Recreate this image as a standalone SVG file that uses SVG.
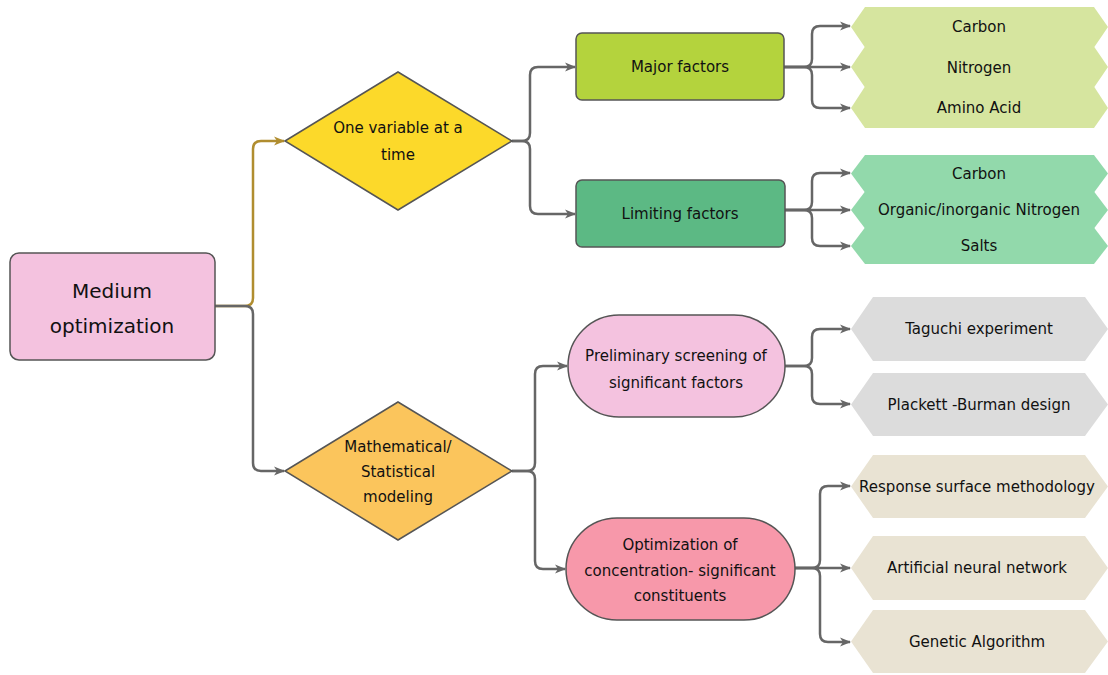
<svg xmlns="http://www.w3.org/2000/svg" width="1108" height="675" viewBox="0 0 1108 675">
<defs>
<marker id="ag" markerUnits="userSpaceOnUse" markerWidth="11" markerHeight="10" refX="10" refY="5" orient="auto"><path d="M0,0.5 L11,5 L0,9.5 L3,5 Z" fill="#666"/></marker>
<marker id="ay" markerUnits="userSpaceOnUse" markerWidth="11" markerHeight="10" refX="10" refY="5" orient="auto"><path d="M0,0.5 L11,5 L0,9.5 L3,5 Z" fill="#b08d2f"/></marker>
<style>
text{font-family:"DejaVu Sans","Noto Sans",sans-serif;font-size:15px;fill:#111;text-anchor:middle}
.big{font-size:20px}
.box{stroke:#555;stroke-width:1.5}
.c{fill:none;stroke:#666;stroke-width:2.5;marker-end:url(#ag)}
.cy{fill:none;stroke:#b08d2f;stroke-width:2.5;marker-end:url(#ay)}
.lg{fill:#d6e59f}
.mt{fill:#92d9ab}
.gr{fill:#dcdcdc}
.bg{fill:#e9e3d3}
</style>
</defs>
<rect width="1108" height="675" fill="#fff"/>

<g id="connectors">
<path class="cy" d="M215,306 H245 Q253,306 253,298 V149 Q253,141 261,141 H284"/>
<path class="c" d="M215,306 H245 Q253,306 253,314 V463 Q253,471 261,471 H284"/>
<path class="c" d="M512,141 H522 Q530,141 530,133 V75 Q530,67 538,67 H575"/>
<path class="c" d="M512,141 H522 Q530,141 530,149 V206 Q530,214 538,214 H575"/>
<path class="c" d="M512,471 H527 Q535,471 535,463 V374 Q535,366 543,366 H567"/>
<path class="c" d="M512,471 H527 Q535,471 535,479 V561 Q535,569 543,569 H565"/>
<path class="c" d="M784,67 H804 Q812,67 812,59 V34 Q812,26 820,26 H850"/>
<path class="c" d="M784,67 H850"/>
<path class="c" d="M784,67 H804 Q812,67 812,75 V100 Q812,108 820,108 H850"/>
<path class="c" d="M785,210 H804 Q812,210 812,202 V181 Q812,173 820,173 H850"/>
<path class="c" d="M785,210 H850"/>
<path class="c" d="M785,210 H804 Q812,210 812,218 V238 Q812,246 820,246 H850"/>
<path class="c" d="M785,366 H804 Q812,366 812,358 V337 Q812,329 820,329 H850"/>
<path class="c" d="M785,366 H804 Q812,366 812,374 V396 Q812,404 820,404 H850"/>
<path class="c" d="M795,568 H812 Q820,568 820,560 V494 Q820,486 828,486 H850"/>
<path class="c" d="M795,568 H850"/>
<path class="c" d="M795,568 H812 Q820,568 820,576 V634 Q820,642 828,642 H850"/>
</g>

<g id="medium">
<rect class="box" x="10" y="253" width="205" height="107" rx="9" fill="#f4c2df"/>
<text class="big" x="112" y="298">Medium</text>
<text class="big" x="112" y="333">optimization</text>
</g>

<g id="ovat">
<polygon class="box" points="285,141 398,72 512,141 398,210" fill="#fcd92a"/>
<text x="398" y="133">One variable at a</text>
<text x="398" y="160">time</text>
</g>

<g id="mathstat">
<polygon class="box" points="285,471 398,402 512,471 398,540" fill="#fbc55c"/>
<text x="398" y="452">Mathematical/</text>
<text x="398" y="477">Statistical</text>
<text x="398" y="502">modeling</text>
</g>

<g id="major">
<rect class="box" x="576" y="33" width="208" height="67" rx="6" fill="#b4d33d"/>
<text x="680" y="72">Major factors</text>
</g>

<g id="limiting">
<rect class="box" x="576" y="180" width="209" height="67" rx="6" fill="#5cb984"/>
<text x="680" y="219">Limiting factors</text>
</g>

<g id="preliminary">
<rect class="box" x="568" y="315" width="217" height="102" rx="51" fill="#f4c2df"/>
<text x="676" y="361">Preliminary screening of</text>
<text x="676" y="388">significant factors</text>
</g>

<g id="optim">
<rect class="box" x="566" y="518" width="229" height="102" rx="51" fill="#f798aa"/>
<text x="680" y="550">Optimization of</text>
<text x="680" y="576">concentration- significant</text>
<text x="680" y="601">constituents</text>
</g>

<g id="major-carbon">
<path class="lg" d="M851,27 L865,7 L1094,7 L1108,27 L1094,47.5 L865,47.5 Z"/>
<text x="979" y="32">Carbon</text>
</g>
<g id="major-nitrogen">
<path class="lg" d="M851,67 L865,46.5 L1094,46.5 L1108,67 L1094,87.5 L865,87.5 Z"/>
<text x="979" y="73">Nitrogen</text>
</g>
<g id="major-amino">
<path class="lg" d="M851,108 L865,86.5 L1094,86.5 L1108,108 L1094,128 L865,128 Z"/>
<text x="979" y="113">Amino Acid</text>
</g>

<g id="lim-carbon">
<path class="mt" d="M851,173.5 L865,155 L1094,155 L1108,173.5 L1094,192.5 L865,192.5 Z"/>
<text x="979" y="179">Carbon</text>
</g>
<g id="lim-nitrogen">
<path class="mt" d="M851,210 L865,191.5 L1094,191.5 L1108,210 L1094,228.5 L865,228.5 Z"/>
<text x="979" y="215">Organic/inorganic Nitrogen</text>
</g>
<g id="lim-salts">
<path class="mt" d="M851,246 L865,227.5 L1094,227.5 L1108,246 L1094,264 L865,264 Z"/>
<text x="979" y="251">Salts</text>
</g>

<g id="taguchi">
<path class="gr" d="M851,329 L873,297 L1085,297 L1108,329 L1085,361 L873,361 Z"/>
<text x="979" y="334">Taguchi experiment</text>
</g>
<g id="plackett">
<path class="gr" d="M851,404.5 L873,373 L1085,373 L1108,404.5 L1085,436 L873,436 Z"/>
<text x="979" y="410">Plackett -Burman design</text>
</g>

<g id="rsm">
<path class="bg" d="M851,486.5 L873,455 L1085,455 L1108,486.5 L1085,518 L873,518 Z"/>
<text x="977" y="492">Response surface methodology</text>
</g>
<g id="ann">
<path class="bg" d="M851,568 L873,536 L1085,536 L1108,568 L1085,600 L873,600 Z"/>
<text x="977" y="573">Artificial neural network</text>
</g>
<g id="ga">
<path class="bg" d="M851,641.5 L873,610 L1085,610 L1108,641.5 L1085,673 L873,673 Z"/>
<text x="977" y="647">Genetic Algorithm</text>
</g>
</svg>
